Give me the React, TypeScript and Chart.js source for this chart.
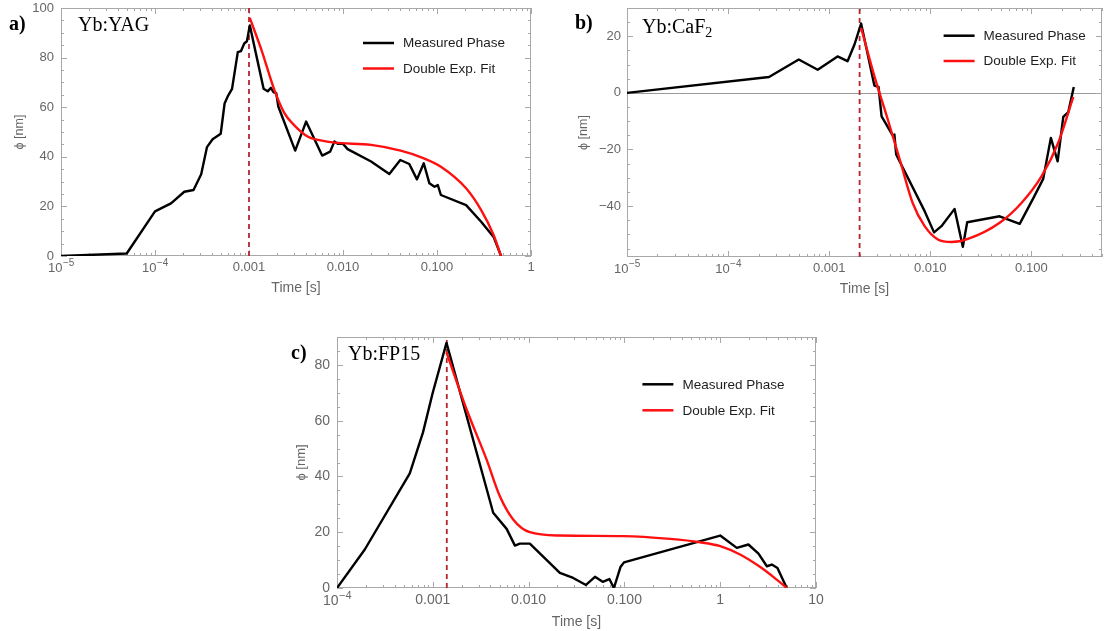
import React, { useEffect, useRef } from 'react';
import { Chart, registerables } from 'chart.js';

Chart.register(...registerables);

// ===== Panel a) Yb:YAG =====
const aMeasTime = [1e-5, 5e-5, 1e-4, 1.48e-4, 2.05e-4, 2.57e-4, 3.1e-4, 3.57e-4, 4.1e-4, 5.0e-4, 5.5e-4, 6.0e-4, 6.6e-4, 7.6e-4, 8.2e-4, 8.9e-4, 9.5e-4, 1.02e-3, 1.19e-3, 1.43e-3, 1.58e-3, 1.71e-3, 1.83e-3, 1.95e-3, 2.05e-3, 3.1e-3, 4.05e-3, 6.0e-3, 7.3e-3, 8.1e-3, 8.8e-3, 0.01, 0.0112, 0.0199, 0.0311, 0.0407, 0.0507, 0.0612, 0.0723, 0.083, 0.094, 0.102, 0.11, 0.204, 0.295, 0.4, 0.48];
const aMeasPhase = [0, 1, 18, 21.2, 25.9, 26.6, 33, 43.9, 47.1, 49.3, 61.5, 64.7, 67.4, 82.2, 82.6, 85.7, 86.6, 93, 81.3, 67.4, 66.4, 67.8, 66, 65.7, 60.3, 42.5, 54.2, 40.5, 42.1, 46.2, 45.2, 45.2, 43.1, 38.1, 33.1, 38.7, 37.1, 30.9, 37.4, 29.3, 27.9, 28.6, 24.6, 20.5, 13.8, 7.7, 0];
const aFitTime = [1.02e-3, 1.35e-3, 1.86e-3, 2.38e-3, 3.0e-3, 4.2e-3, 5.8e-3, 8.1e-3, 0.0199, 0.041, 0.068, 0.11, 0.204, 0.295, 0.4, 0.48];
const aFitPhase = [96, 83.3, 67, 57.6, 52.9, 48.2, 46.6, 45.7, 44.8, 42.5, 39.8, 36, 27.3, 18.5, 8.5, 0];
const aMarker = 0.001;
const aXTicks = [1e-5, 1e-4, 1e-3, 1e-2, 1e-1, 1];
const aXTickLabels = ['10^\u22125', '10^\u22124', '0.001', '0.010', '0.100', '1'];
const aYTicks = [0, 20, 40, 60, 80, 100];

// ===== Panel b) Yb:CaF2 =====
const bMeasTime = [1e-5, 2.54e-4, 5.0e-4, 7.7e-4, 1.21e-3, 1.52e-3, 1.78e-3, 2.07e-3, 2.8e-3, 3.08e-3, 3.3e-3, 4.26e-3, 4.42e-3, 4.6e-3, 8.8e-3, 0.0109, 0.0129, 0.0174, 0.021, 0.0232, 0.0486, 0.0767, 0.105, 0.131, 0.156, 0.182, 0.207, 0.232, 0.263];
const bMeasPhase = [0, 5.6, 11.8, 8.2, 12.9, 11.2, 17.1, 24.5, 2.6, 2.1, -8.3, -15.1, -14.7, -21.8, -41.8, -49.3, -47.1, -41, -54.4, -45.7, -43.6, -46.3, -37.1, -30.4, -15.9, -24.2, -8.5, -6.8, 2.1];
const bFitTime = [2.07e-3, 2.8e-3, 3.8e-3, 5.1e-3, 6.7e-3, 8.8e-3, 0.0119, 0.0162, 0.0236, 0.0486, 0.0798, 0.126, 0.184, 0.26];
const bFitPhase = [23, 5.9, -9.4, -24.7, -38.9, -47.1, -51.8, -52.7, -51.6, -45.9, -38.9, -29.5, -17.7, -1.4];
const bMarker = 0.002;
const bXTicks = [1e-5, 1e-4, 1e-3, 1e-2, 1e-1];
const bXTickLabels = ['10^\u22125', '10^\u22124', '0.001', '0.010', '0.100'];
const bYTicks = [-40, -20, 0, 20];

// ===== Panel c) Yb:FP15 =====
const cMeasTime = [1e-4, 1.95e-4, 5.75e-4, 7.9e-4, 1.0e-3, 1.39e-3, 4.27e-3, 5.9e-3, 7.2e-3, 8.1e-3, 0.0103, 0.0212, 0.0292, 0.0397, 0.0493, 0.0593, 0.0697, 0.0777, 0.091, 0.099, 1.0, 1.49, 1.97, 2.51, 3.07, 3.46, 3.96, 4.95];
const cMeasPhase = [0, 13.8, 41.1, 55.8, 70.1, 87.9, 27, 21.2, 15.2, 15.9, 15.9, 5.4, 3.6, 1.1, 4, 2.2, 3.2, 0, 7.5, 9.2, 18.8, 14.4, 15.6, 12.3, 7.8, 8.4, 7.2, 0];
const cFitTime = [1.39e-3, 2.25e-3, 3.63e-3, 5.0e-3, 6.9e-3, 0.0103, 0.0212, 0.0977, 0.3, 0.617, 1.0, 1.61, 2.62, 3.89, 4.95];
const cFitPhase = [84.5, 64.1, 46.2, 33, 24.6, 20, 18.8, 18.6, 17.6, 16.4, 15, 12, 7.5, 3, 0];
const cMarker = 0.0014;
const cXTicks = [1e-4, 1e-3, 1e-2, 1e-1, 1, 10];
const cXTickLabels = ['10^\u22124', '0.001', '0.010', '0.100', '1', '10'];
const cYTicks = [0, 20, 40, 60, 80];

const legendLabels = ['Measured Phase', 'Double Exp. Fit'];

const SANS = '"Liberation Sans", Arial, sans-serif';
const SERIF = '"Liberation Serif", "Times New Roman", serif';
const GRAY = '#666666';

const panelDecor = {
  id: 'panelDecor',
  beforeDatasetsDraw(chart: any, _a: any, o: any) {
    const { ctx, chartArea: ca, scales } = chart;
    const xs = scales.x, ys = scales.y;
    ctx.save();
    if (o.zeroLine) {
      const y0 = Math.round(ys.getPixelForValue(0)) + 0.5;
      ctx.strokeStyle = '#9a9a9a';
      ctx.lineWidth = 1;
      ctx.beginPath();
      ctx.moveTo(ca.left, y0);
      ctx.lineTo(ca.right, y0);
      ctx.stroke();
    }
    ctx.strokeStyle = '#a8a8a8';
    ctx.lineWidth = 1;
    ctx.strokeRect(Math.round(ca.left) + 0.5, Math.round(ca.top) + 0.5, Math.round(ca.right - ca.left) - 1, Math.round(ca.bottom - ca.top) - 1);
    ctx.beginPath();
    const e0 = Math.floor(Math.log10(xs.min)), e1 = Math.ceil(Math.log10(xs.max));
    for (let e = e0; e <= e1; e++) {
      for (let k = 1; k <= 9; k++) {
        const v = k * Math.pow(10, e);
        if (v < xs.min * 0.999 || v > xs.max * 1.001) continue;
        const px = Math.round(xs.getPixelForValue(v)) + 0.5;
        const len = k === 1 ? 6 : 3;
        ctx.moveTo(px, ca.bottom); ctx.lineTo(px, ca.bottom - len);
        ctx.moveTo(px, ca.top); ctx.lineTo(px, ca.top + len);
      }
    }
    const step = o.yMinor, major = o.yMajor;
    for (let v = Math.ceil(ys.min / step) * step; v <= ys.max + 1e-9; v += step) {
      const py = Math.round(ys.getPixelForValue(v)) + 0.5;
      const len = Math.abs(v % major) < 1e-9 ? 6 : 3;
      ctx.moveTo(ca.left, py); ctx.lineTo(ca.left + len, py);
      ctx.moveTo(ca.right, py); ctx.lineTo(ca.right - len, py);
    }
    ctx.stroke();
    ctx.restore();
  },
  afterDraw(chart: any, _a: any, o: any) {
    const { ctx, chartArea: ca, scales } = chart;
    ctx.save();
    // power-of-ten tick labels (base + raised exponent)
    const xs = scales.x;
    const yMid = ca.bottom + o.xTickPad + (o.tickSize * 1.2) / 2;
    ctx.fillStyle = GRAY;
    ctx.textBaseline = 'middle';
    ctx.textAlign = 'left';
    xs.ticks.forEach((t: any, i: number) => {
      const lab: string = o.xLabels[i] || '';
      if (lab.indexOf('^') < 0) return;
      const [base, exp] = lab.split('^');
      ctx.font = `${o.tickSize}px ${SANS}`;
      const wb = ctx.measureText(base).width;
      ctx.font = `${Math.round(o.tickSize * 0.75)}px ${SANS}`;
      const we = ctx.measureText(exp).width;
      const px = xs.getPixelForValue(t.value);
      const x0 = px - (wb + we) / 2;
      ctx.font = `${o.tickSize}px ${SANS}`;
      ctx.fillText(base, x0, yMid + 1);
      ctx.font = `${Math.round(o.tickSize * 0.75)}px ${SANS}`;
      ctx.fillText(exp, x0 + wb + 0.5, yMid - 4);
    });
    // panel tag and sample name
    ctx.fillStyle = '#000';
    ctx.textBaseline = 'alphabetic';
    ctx.textAlign = 'left';
    ctx.font = `bold 20px ${SERIF}`;
    ctx.fillText(o.tag, ca.left + o.tagDx, ca.top + o.tagDy);
    ctx.font = `20px ${SERIF}`;
    const nx = ca.left + o.nameDx, ny = ca.top + o.nameDy;
    ctx.fillText(o.name, nx, ny);
    if (o.nameSub) {
      const w = ctx.measureText(o.name).width;
      ctx.font = `14px ${SERIF}`;
      ctx.fillText(o.nameSub, nx + w, ny + 4);
    }
    // legend
    const L = o.legend;
    ctx.font = `13.5px ${SANS}`;
    ctx.textBaseline = 'middle';
    legendLabels.forEach((label, i) => {
      const ds = chart.data.datasets.find((d: any) => d.label === label);
      const x0 = ca.left + L.dx, y = ca.top + L.dy + i * L.spacing;
      ctx.strokeStyle = ds.borderColor;
      ctx.lineWidth = 2.5;
      ctx.beginPath();
      ctx.moveTo(x0, y);
      ctx.lineTo(x0 + 31, y);
      ctx.stroke();
      ctx.fillStyle = '#1e1e1e';
      ctx.fillText(label, x0 + 40, y + 0.5);
    });
    ctx.restore();
  },
};

type PanelCfg = {
  left: number; top: number; w: number; h: number;
  padTop: number; padRight: number; yAxisW: number; xAxisH: number;
  yTitlePad: number; yTitleSize: number; xTitlePad: number;
  xTickPad: number; yTickPad: number; tickSize: number;
  xMin: number; xMax: number; yMin: number; yMax: number;
  xTicks: number[]; xTickLabels: string[]; yTicks: number[];
  measT: number[]; measV: number[]; fitT: number[]; fitV: number[]; marker: number;
  decor: any;
};

const panels: PanelCfg[] = [
  {
    left: 0, top: 0, w: 545, h: 300, padTop: 8, padRight: 14, yAxisW: 61, xAxisH: 44,
    yTitlePad: 11.8, yTitleSize: 12.5, xTitlePad: 3.3, xTickPad: 3.5, yTickPad: 7, tickSize: 13,
    xMin: 1e-5, xMax: 1, yMin: 0, yMax: 100,
    xTicks: aXTicks, xTickLabels: aXTickLabels, yTicks: aYTicks,
    measT: aMeasTime, measV: aMeasPhase, fitT: aFitTime, fitV: aFitPhase, marker: aMarker,
    decor: { tag: 'a)', tagDx: -52, tagDy: 22, name: 'Yb:YAG', nameDx: 17, nameDy: 23, yMinor: 5, yMajor: 20, legend: { dx: 302, dy: 35, spacing: 25.5 } },
  },
  {
    left: 565, top: 0, w: 539, h: 300, padTop: 8, padRight: 2, yAxisW: 62, xAxisH: 43,
    yTitlePad: 11.1, yTitleSize: 12.5, xTitlePad: 2.3, xTickPad: 3.2, yTickPad: 6, tickSize: 13,
    xMin: 1e-5, xMax: 0.5, yMin: -58, yMax: 30,
    xTicks: bXTicks, xTickLabels: bXTickLabels, yTicks: bYTicks,
    measT: bMeasTime, measV: bMeasPhase, fitT: bFitTime, fitV: bFitPhase, marker: bMarker,
    decor: { tag: 'b)', tagDx: -52, tagDy: 21, name: 'Yb:CaF', nameSub: '2', nameDx: 15, nameDy: 25, zeroLine: true, yMinor: 5, yMajor: 20, legend: { dx: 316.6, dy: 27.7, spacing: 25.3 } },
  },
  {
    left: 270, top: 330, w: 560, h: 301, padTop: 7, padRight: 14, yAxisW: 67, xAxisH: 43,
    yTitlePad: 23.9, yTitleSize: 13, xTitlePad: 0.9, xTickPad: 3.8, yTickPad: 7, tickSize: 14,
    xMin: 1e-4, xMax: 10, yMin: 0, yMax: 90,
    xTicks: cXTicks, xTickLabels: cXTickLabels, yTicks: cYTicks,
    measT: cMeasTime, measV: cMeasPhase, fitT: cFitTime, fitV: cFitPhase, marker: cMarker,
    decor: { tag: 'c)', tagDx: -46, tagDy: 22, name: 'Yb:FP15', nameDx: 11, nameDy: 22.6, yMinor: 5, yMajor: 20, legend: { dx: 305.4, dy: 47.3, spacing: 26 } },
  },
];

const pts = (xs: number[], ys: number[]) => xs.map((x, i) => ({ x, y: ys[i] }));
const fmtY = (v: number) => (v < 0 ? '\u2212' + Math.abs(v) : String(v));

function Panel({ p }: { p: PanelCfg }) {
  const ref = useRef<HTMLCanvasElement>(null);
  useEffect(() => {
    if (!ref.current) return;
    const chart = new Chart(ref.current, {
      type: 'line',
      data: {
        datasets: [
          { label: 'Double Exp. Fit', data: pts(p.fitT, p.fitV), borderColor: '#ff1010', borderWidth: 2.4, pointRadius: 0, cubicInterpolationMode: 'monotone', fill: false },
          { label: 'Measured Phase', data: pts(p.measT, p.measV), borderColor: '#000000', borderWidth: 2.4, pointRadius: 0, tension: 0, borderJoinStyle: 'round', fill: false },
          { label: '', data: [{ x: p.marker, y: p.yMin }, { x: p.marker, y: p.yMax }], borderColor: '#b3262c', borderWidth: 1.8, borderDash: [5, 4], pointRadius: 0, fill: false },
        ],
      } as any,
      options: {
        animation: false,
        responsive: false,
        events: [],
        layout: { padding: { left: 0, top: p.padTop, right: p.padRight, bottom: 0 } },
        plugins: {
          legend: { display: false },
          tooltip: { enabled: false },
          panelDecor: { ...p.decor, xLabels: p.xTickLabels, tickSize: p.tickSize, xTickPad: p.xTickPad },
        } as any,
        scales: {
          x: {
            type: 'logarithmic',
            min: p.xMin,
            max: p.xMax,
            afterBuildTicks: (s: any) => { s.ticks = p.xTicks.map((v) => ({ value: v })); },
            afterFit: (s: any) => { s.height = p.xAxisH; s.paddingLeft = 0; s.paddingRight = 0; },
            grid: { display: false, drawTicks: false },
            border: { display: false },
            ticks: {
              autoSkip: false, maxRotation: 0, minRotation: 0, padding: p.xTickPad, color: GRAY,
              font: { family: SANS, size: p.tickSize },
              callback: (_v: any, i: number) => (p.xTickLabels[i].indexOf('^') >= 0 ? '' : p.xTickLabels[i]),
            },
            title: { display: true, text: 'Time [s]', color: GRAY, font: { family: SANS, size: 14 }, padding: { top: 0, bottom: p.xTitlePad } },
          },
          y: {
            type: 'linear',
            min: p.yMin,
            max: p.yMax,
            afterBuildTicks: (s: any) => { s.ticks = p.yTicks.map((v) => ({ value: v })); },
            afterFit: (s: any) => { s.width = p.yAxisW; s.paddingTop = 0; s.paddingBottom = 0; },
            grid: { display: false, drawTicks: false },
            border: { display: false },
            ticks: { padding: p.yTickPad, color: GRAY, font: { family: SANS, size: p.tickSize }, callback: (v: any) => fmtY(Number(v)) },
            title: { display: true, text: 'ϕ [nm]', color: GRAY, font: { family: SANS, size: p.yTitleSize }, padding: { top: p.yTitlePad, bottom: 0 } },
          },
        } as any,
      },
      plugins: [panelDecor],
    } as any);
    return () => chart.destroy();
  }, [p]);
  return (
    <canvas
      ref={ref}
      width={p.w}
      height={p.h}
      style={{ position: 'absolute', left: p.left, top: p.top, width: p.w, height: p.h }}
    />
  );
}

export default function App() {
  return (
    <div style={{ position: 'fixed', left: 0, top: 0, width: 1104, height: 631, background: '#ffffff', overflow: 'hidden' }}>
      {panels.map((p, i) => (
        <Panel key={i} p={p} />
      ))}
    </div>
  );
}
